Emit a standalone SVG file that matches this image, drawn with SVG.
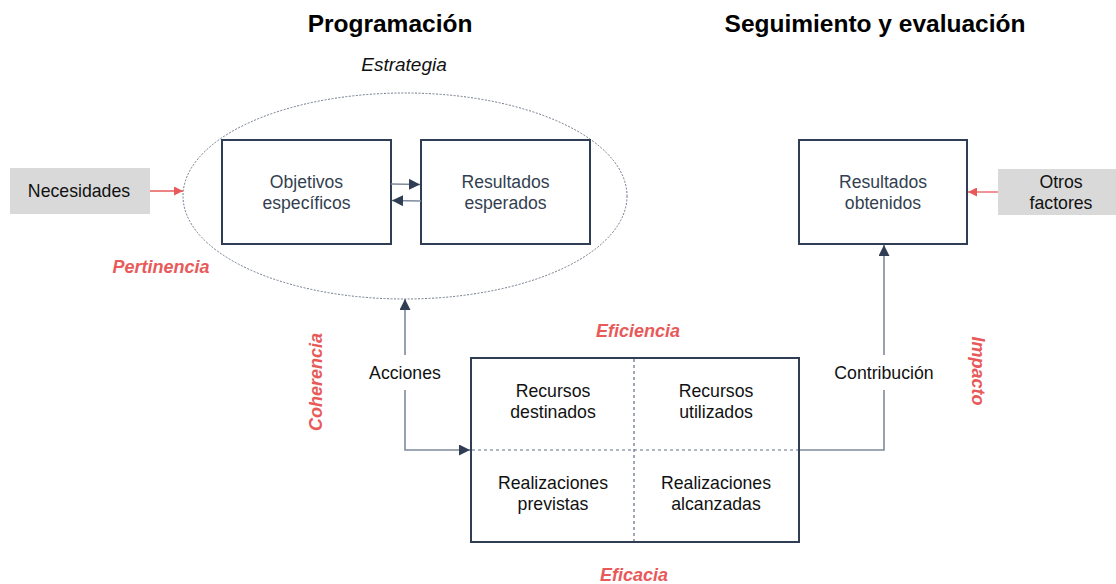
<svg xmlns="http://www.w3.org/2000/svg" width="1116" height="584" viewBox="0 0 1116 584">
<style>
text{font-family:"Liberation Sans",Arial,sans-serif;}
.title{font-size:24.5px;font-weight:bold;fill:#000;text-anchor:middle;}
.box{fill:#fff;stroke:#2f3d55;stroke-width:2;}
.gray{fill:#d9d9d9;stroke:none;}
.bt{font-size:17.6px;fill:#333f50;text-anchor:middle;}
.kt{font-size:17.7px;fill:#111;text-anchor:middle;}
.red{font-size:18px;font-weight:bold;font-style:italic;fill:#e85a5a;text-anchor:middle;}
.conn{fill:none;stroke:#7f8a9c;stroke-width:1.6;}
.rc{fill:none;stroke:#e85a5a;stroke-width:1.3;}
.dash{stroke:#5f6e86;stroke-width:1.2;stroke-dasharray:3 3;}
</style>
<defs>
<marker id="ar" viewBox="0 0 10 10" refX="10" refY="5" markerWidth="9" markerHeight="9" markerUnits="userSpaceOnUse" orient="auto"><path d="M0,0 L10,5 L0,10 z" fill="#e85a5a"/></marker>
<marker id="ahb" viewBox="0 0 10 10" refX="10" refY="5" markerWidth="11" markerHeight="11" markerUnits="userSpaceOnUse" orient="auto"><path d="M0,0 L10,5 L0,10 z" fill="#2f3d55"/></marker>
</defs>

<text class="title" x="390" y="32">Programación</text>
<text class="title" x="875" y="32">Seguimiento y evaluación</text>

<g id="estrategia">
<ellipse cx="405" cy="196" rx="222" ry="103" fill="none" stroke="#6f7a8a" stroke-width="1" stroke-dasharray="2 1.5"/>
<text x="404" y="71" font-size="19" font-style="italic" fill="#111" text-anchor="middle">Estrategia</text>
</g>

<g id="necesidades">
<rect class="gray" x="10" y="168" width="140" height="46"/>
<text class="kt" x="79" y="197">Necesidades</text>
</g>

<g id="objetivos">
<rect class="box" x="222" y="140" width="169" height="104"/>
<text class="bt" x="306.5" y="188">Objetivos</text>
<text class="bt" x="306.5" y="209">específicos</text>
</g>

<g id="resultados-esperados">
<rect class="box" x="421" y="140" width="169" height="104"/>
<text class="bt" x="505.5" y="188">Resultados</text>
<text class="bt" x="505.5" y="209">esperados</text>
</g>

<g id="resultados-obtenidos">
<rect class="box" x="799" y="140" width="168" height="104"/>
<text class="bt" x="883" y="188">Resultados</text>
<text class="bt" x="883" y="209">obtenidos</text>
</g>

<g id="otros-factores">
<rect class="gray" x="998" y="169" width="118" height="46"/>
<text class="kt" x="1061" y="188">Otros</text>
<text class="kt" x="1061" y="209">factores</text>
</g>

<g id="recursos">
<rect class="box" x="471" y="358" width="328" height="184"/>
<line class="dash" x1="634" y1="359" x2="634" y2="541"/>
<line class="dash" x1="472" y1="450" x2="798" y2="450"/>
<text class="kt" x="553" y="397">Recursos</text>
<text class="kt" x="553" y="418">destinados</text>
<text class="kt" x="716" y="397">Recursos</text>
<text class="kt" x="716" y="418">utilizados</text>
<text class="kt" x="553" y="489">Realizaciones</text>
<text class="kt" x="553" y="510">previstas</text>
<text class="kt" x="716" y="489">Realizaciones</text>
<text class="kt" x="716" y="510">alcanzadas</text>
</g>

<g id="connectors">
<line class="rc" x1="150" y1="191" x2="183" y2="191" marker-end="url(#ar)"/>
<line class="rc" x1="998" y1="192" x2="968" y2="192" marker-end="url(#ar)"/>
<line class="conn" x1="391" y1="184" x2="420" y2="184.5" marker-end="url(#ahb)"/>
<line class="conn" x1="421" y1="201" x2="392" y2="200.5" marker-end="url(#ahb)"/>
<line class="conn" x1="405" y1="355" x2="405" y2="299" marker-end="url(#ahb)"/>
<polyline class="conn" points="405,390 405,450 470,450" marker-end="url(#ahb)"/>
<polyline class="conn" points="800,450 884,450 884,390"/>
<line class="conn" x1="884" y1="355" x2="884" y2="245" marker-end="url(#ahb)"/>
<text class="kt" x="405" y="379">Acciones</text>
<text class="kt" x="884" y="379">Contribución</text>
</g>

<g id="criterios">
<text class="red" x="161" y="273">Pertinencia</text>
<text class="red" x="638" y="337">Eficiencia</text>
<text class="red" x="634" y="581">Eficacia</text>
<text class="red" transform="translate(322,382) rotate(-90)">Coherencia</text>
<text class="red" transform="translate(972,371) rotate(90)">Impacto</text>
</g>
</svg>
